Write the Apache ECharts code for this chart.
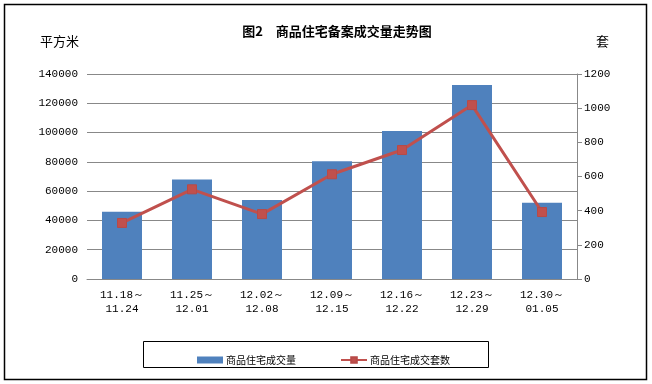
<!DOCTYPE html>
<html><head><meta charset="utf-8">
<script src="https://cdn.jsdelivr.net/npm/echarts@6/dist/echarts.min.js"></script>
<style>html,body{margin:0;padding:0;background:#fff}#c{width:652px;height:384px}</style>
</head><body><div id="c"></div>
<script>
var categories = ['11.18～\n11.24','11.25～\n12.01','12.02～\n12.08','12.09～\n12.15','12.16～\n12.22','12.23～\n12.29','12.30～\n01.05'];
var areaValues = [46000, 68000, 54000, 80500, 101000, 132500, 52000];
var unitValues = [328, 525, 380, 613, 755, 1018, 392];
var seriesNames = ['商品住宅成交量', '商品住宅成交套数'];
var titleText = '图2　商品住宅备案成交量走势图';

var chart = echarts.init(document.getElementById('c'), null, {renderer: 'canvas'});
var numFont = '"Liberation Mono", monospace';
var cjkFont = '"Noto Sans CJK SC", sans-serif';
function plain(v) { return String(v); }
chart.setOption({
  animation: false,
  backgroundColor: '#fff',
  title: {
    text: titleText, left: 332, top: 20, textAlign: 'center',
    textStyle: {fontFamily: cjkFont, fontSize: 13, fontWeight: 'bold', color: '#000'}
  },
  grid: {left: 87, right: 75, top: 74, bottom: 105, containLabel: false},
  legend: {
    left: 192, top: 350, itemWidth: 26, itemHeight: 7, itemGap: 44,
    textStyle: {fontFamily: cjkFont, fontSize: 10, color: '#000', padding: [0,0,0,-2]},
    data: [{name: seriesNames[0], icon: 'rect'}, {name: seriesNames[1]}]
  },
  graphic: [
    {type: 'rect', shape: {x: 4.5, y: 4.5, width: 642, height: 375}, style: {fill: 'none', stroke: '#000', lineWidth: 1.5}, silent: true},
    {type: 'rect', shape: {x: 143.5, y: 341.5, width: 345, height: 26}, style: {fill: 'none', stroke: '#000', lineWidth: 1}, silent: true},
    {type: 'text', left: 40, top: 35, style: {text: '平方米', fontFamily: cjkFont, fontSize: 13, fill: '#000'}},
    {type: 'text', left: 596, top: 35, style: {text: '套', fontFamily: cjkFont, fontSize: 13, fill: '#000'}}
  ],
  xAxis: {
    type: 'category', data: categories, boundaryGap: true,
    axisLine: {show: true, lineStyle: {color: '#888', width: 1}},
    axisTick: {show: false},
    axisLabel: {fontFamily: numFont, fontSize: 11, color: '#000', margin: 9, lineHeight: 14, interval: 0}
  },
  yAxis: [
    {
      type: 'value', min: 0, max: 140000, interval: 20000, position: 'left',
      axisLine: {show: false}, axisTick: {show: false},
      splitLine: {show: true, lineStyle: {color: '#888', width: 1}},
      axisLabel: {fontFamily: numFont, fontSize: 11, color: '#000', margin: 9, formatter: plain}
    },
    {
      type: 'value', min: 0, max: 1200, interval: 200, position: 'right',
      axisLine: {show: true, lineStyle: {color: '#888', width: 1}},
      axisTick: {show: true, length: 5, lineStyle: {color: '#888'}},
      splitLine: {show: false},
      axisLabel: {fontFamily: numFont, fontSize: 11, color: '#000', margin: 7, formatter: plain}
    }
  ],
  series: [
    {name: seriesNames[0], type: 'bar', data: areaValues, barWidth: 40, yAxisIndex: 0,
     itemStyle: {color: '#4F81BD'}},
    {name: seriesNames[1], type: 'line', data: unitValues, yAxisIndex: 1,
     symbol: 'rect', symbolSize: 9,
     lineStyle: {color: '#C0504D', width: 3},
     itemStyle: {color: '#C0504D', borderColor: '#B84A47', borderWidth: 1}}
  ]
});
</script></body></html>
